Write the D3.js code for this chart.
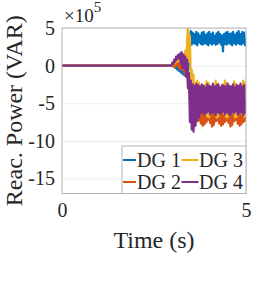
<!DOCTYPE html>
<html>
<head>
<meta charset="utf-8">
<script src="https://cdn.jsdelivr.net/npm/d3@7"></script>
<style>
  body { margin: 0; background: #fff; }
  svg text { font-family: "Liberation Serif", "Times New Roman", Times, serif !important; fill: #262626; }
</style>
</head>
<body>
<div id="chart"></div>
<script>
// time samples (s)
let time = [0, 2.975,
    3, 3.025, 3.05, 3.075, 3.1, 3.125, 3.15, 3.175, 3.2, 3.225,
    3.25, 3.275, 3.3, 3.325, 3.35, 3.375, 3.4, 3.425, 3.45, 3.475,
    3.5, 3.525, 3.55, 3.575, 3.6, 3.625, 3.65, 3.675, 3.7, 3.725,
    3.75, 3.775, 3.8, 3.825, 3.85, 3.875, 3.9, 3.925, 3.95, 3.975,
    4, 4.025, 4.05, 4.075, 4.1, 4.125, 4.15, 4.175, 4.2, 4.225,
    4.25, 4.275, 4.3, 4.325, 4.35, 4.375, 4.4, 4.425, 4.45, 4.475,
    4.5, 4.525, 4.55, 4.575, 4.6, 4.625, 4.65, 4.675, 4.7, 4.725,
    4.75, 4.775, 4.8, 4.825, 4.85, 4.875, 4.9, 4.925, 4.95, 4.975, 5];

// reactive power, x 1e5 VAR
let dg1 = [0, 0,
    0, -0.1, 0.1, -0.3, 0.2, -0.5, 0.1, -0.7, 0.0, -0.9,
    -0.1, -1.1, -0.3, -1.3, -0.4, -1.2, -0.2, -0.8, 0.3, 2.5,
    4.6, 2.8, 4.4, 3.0, 4.2, 2.9, 4.5, 2.7, 4.3, 3.1,
    4.0, 2.9, 4.4, 2.8, 4.5, 3.0, 4.1, 2.9, 4.3, 2.7,
    4.5, 3.0, 4.2, 2.8, 4.4, 3.0, 4.0, 2.8, 4.3, 2.9,
    4.5, 3.1, 4.2, 2.8, 4.0, 1.9, 4.2, 2.9, 4.4, 2.8,
    4.5, 3.0, 4.2, 2.9, 4.3, 2.7, 4.5, 3.0, 4.1, 2.8,
    4.4, 3.0, 4.6, 2.9, 4.2, 2.8, 4.5, 3.0, 4.4, 2.7, 3.6];

let dg2 = [0, 0,
    0.1, -0.1, 0.3, -0.2, 0.5, 0.0, 0.7, -0.3, 0.9, -0.5,
    1.0, -0.6, 0.8, -1.0, 0.5, -1.5, -0.5, -3.0, -2.0, -4.5,
    -5.5, -6.8, -4.5, -7.6, -5.6, -7.9, -5.9, -7.4, -6.3, -7.3,
    -6.5, -7.7, -6.1, -8.0, -5.7, -7.8, -5.9, -7.5, -6.4, -7.2,
    -6.6, -7.6, -6.1, -8.1, -5.6, -7.9, -5.8, -7.4, -6.3, -7.3,
    -6.6, -7.7, -6.2, -8.0, -5.7, -7.8, -5.9, -7.5, -6.4, -7.3,
    -6.5, -7.6, -6.0, -8.1, -5.6, -7.9, -5.9, -7.4, -6.3, -7.2,
    -6.6, -7.7, -6.1, -8.0, -5.7, -7.8, -5.8, -7.5, -6.4, -7.3, -6.8];

let dg3 = [0, 0,
    0.2, 0.1, 0.5, 0.3, 0.8, 0.5, 1.1, 0.6, 1.3, 0.4,
    1.5, 0.2, 1.2, -0.5, 2.0, -1.0, 3.5, 5.6, 0.5, 4.0,
    -2.0, -0.5, -4.5, -1.2, -6.2, -2.4, -6.6, -2.0, -6.9, -2.3,
    -6.5, -2.7, -6.1, -2.9, -6.0, -2.6, -6.4, -2.1, -6.8, -2.3,
    -6.9, -2.7, -6.4, -2.9, -6.0, -2.6, -6.2, -2.0, -6.9, -2.4,
    -6.8, -2.8, -6.3, -2.9, -6.0, -2.5, -6.4, -2.0, -6.8, -2.3,
    -6.9, -2.7, -6.2, -2.9, -6.1, -2.6, -6.3, -2.1, -6.9, -2.4,
    -6.8, -2.8, -6.2, -2.9, -6.0, -2.5, -6.5, -2.0, -6.8, -2.3, -4.0];

let dg4 = [0, 0,
    0.4, 0.2, 0.8, 0.5, 1.2, 0.8, 1.4, 1.0, 1.6, 0.3,
    1.8, -0.3, 1.5, -0.5, 1.2, -1.5, 0.8, -3.0, -1.0, -7.5,
    -2.0, -8.5, -2.5, -8.8, -2.7, -8.0, -2.4, -7.2, -2.6, -6.9,
    -2.8, -6.4, -2.5, -6.2, -2.7, -6.5, -2.9, -6.3, -2.5, -6.1,
    -2.7, -6.5, -2.8, -6.3, -2.4, -6.2, -2.8, -6.6, -2.6, -6.2,
    -2.5, -6.4, -2.9, -6.3, -2.6, -6.1, -2.7, -6.5, -2.8, -6.2,
    -2.4, -6.4, -2.7, -6.6, -2.8, -6.2, -2.5, -6.3, -2.9, -6.1,
    -2.6, -6.5, -2.7, -6.3, -2.4, -6.2, -2.8, -6.6, -2.6, -6.3, -4.5];

let series_names = ["DG 1", "DG 2", "DG 3", "DG 4"];
let series_colors = ["#0072BD", "#D95319", "#EDB120", "#7E2F8E"];
let all_series = [dg1, dg2, dg3, dg4];

let x_ticks = [0, 5];
let y_ticks = [5, 0, -5, -10, -15];

let chart_width = 269;
let chart_height = 299;

let margin_left = 62;
let margin_top = 28;
let plot_width = 184;
let plot_height = 165.5;

let svg = d3.select("#chart")
    .append("svg")
    .attr("width", chart_width)
    .attr("height", chart_height);

let g = svg.append("g")
    .attr("transform", "translate(" + margin_left + "," + margin_top + ")");

let xScale = d3.scaleLinear().domain([0, 5]).range([0, plot_width]);
let yScale = d3.scaleLinear().domain([-17, 5]).range([plot_height, 0]);

// grid + y ticks
let y_axis = g.append("g").attr("class", "y axis");
y_axis.call(d3.axisLeft(yScale)
    .tickValues(y_ticks)
    .tickSize(-plot_width)
    .tickPadding(7)
    .tickFormat(d => d < 0 ? "-" + Math.abs(d) : d));
y_axis.select(".domain").remove();
y_axis.selectAll(".tick line").attr("stroke", "#ececec").attr("stroke-width", 1);
y_axis.selectAll(".tick text").attr("font-size", "20px");

let x_axis = g.append("g")
    .attr("class", "x axis")
    .attr("transform", "translate(0," + plot_height + ")");
x_axis.call(d3.axisBottom(xScale)
    .tickValues(x_ticks)
    .tickSize(0)
    .tickPadding(9)
    .tickFormat(d3.format("d")));
x_axis.select(".domain").remove();
x_axis.selectAll(".tick text").attr("font-size", "20px");

// data lines
svg.append("defs").append("clipPath")
    .attr("id", "plot_clip")
    .append("rect")
    .attr("width", plot_width)
    .attr("height", plot_height);

let line = d3.line()
    .x((d, i) => xScale(time[i]))
    .y(d => yScale(d));

g.append("g")
    .attr("clip-path", "url(#plot_clip)")
    .selectAll("path")
    .data(all_series)
    .enter()
    .append("path")
    .attr("fill", "none")
    .attr("stroke", (d, i) => series_colors[i])
    .attr("stroke-width", 2.2)
    .attr("stroke-linejoin", "round")
    .attr("d", line);

// box
g.append("rect")
    .attr("width", plot_width)
    .attr("height", plot_height)
    .attr("fill", "none")
    .attr("stroke", "#b3b3b3")
    .attr("stroke-width", 1);

// exponent
let expo = svg.append("text")
    .attr("x", 64)
    .attr("y", 22)
    .attr("font-size", "19px");
expo.append("tspan").text("\u00d710");
expo.append("tspan").attr("dy", -10).attr("font-size", "15px").text("5");

// axis labels
svg.append("text")
    .attr("x", margin_left + plot_width / 2)
    .attr("y", 248)
    .attr("text-anchor", "middle")
    .attr("font-size", "24px")
    .text("Time (s)");

svg.append("text")
    .attr("transform", "translate(22," + (margin_top + plot_height / 2) + ") rotate(-90)")
    .attr("text-anchor", "middle")
    .attr("font-size", "24px")
    .text("Reac. Power (VAR)");

// legend
let legend = g.append("g")
    .attr("transform", "translate(" + (plot_width - 124) + "," + (plot_height - 47.5) + ")");

legend.append("rect")
    .attr("width", 124)
    .attr("height", 47.5)
    .attr("fill", "#fff")
    .attr("stroke", "#b3b3b3")
    .attr("stroke-width", 1);

let legend_items = legend.selectAll(".legend_item")
    .data(series_names)
    .enter()
    .append("g")
    .attr("class", "legend_item")
    .attr("transform", (d, i) => "translate(" + (i < 2 ? 1 : 59.5) + "," + (i % 2 === 0 ? 14 : 36) + ")");

legend_items.append("line")
    .attr("x1", 0)
    .attr("x2", (d, i) => i < 2 ? 13 : 17)
    .attr("stroke", (d, i) => series_colors[i])
    .attr("stroke-width", 2);

legend_items.append("text")
    .attr("x", (d, i) => i < 2 ? 14 : 17.5)
    .attr("y", 7)
    .attr("font-size", "20px")
    .text(d => d);
</script>
</body>
</html>
